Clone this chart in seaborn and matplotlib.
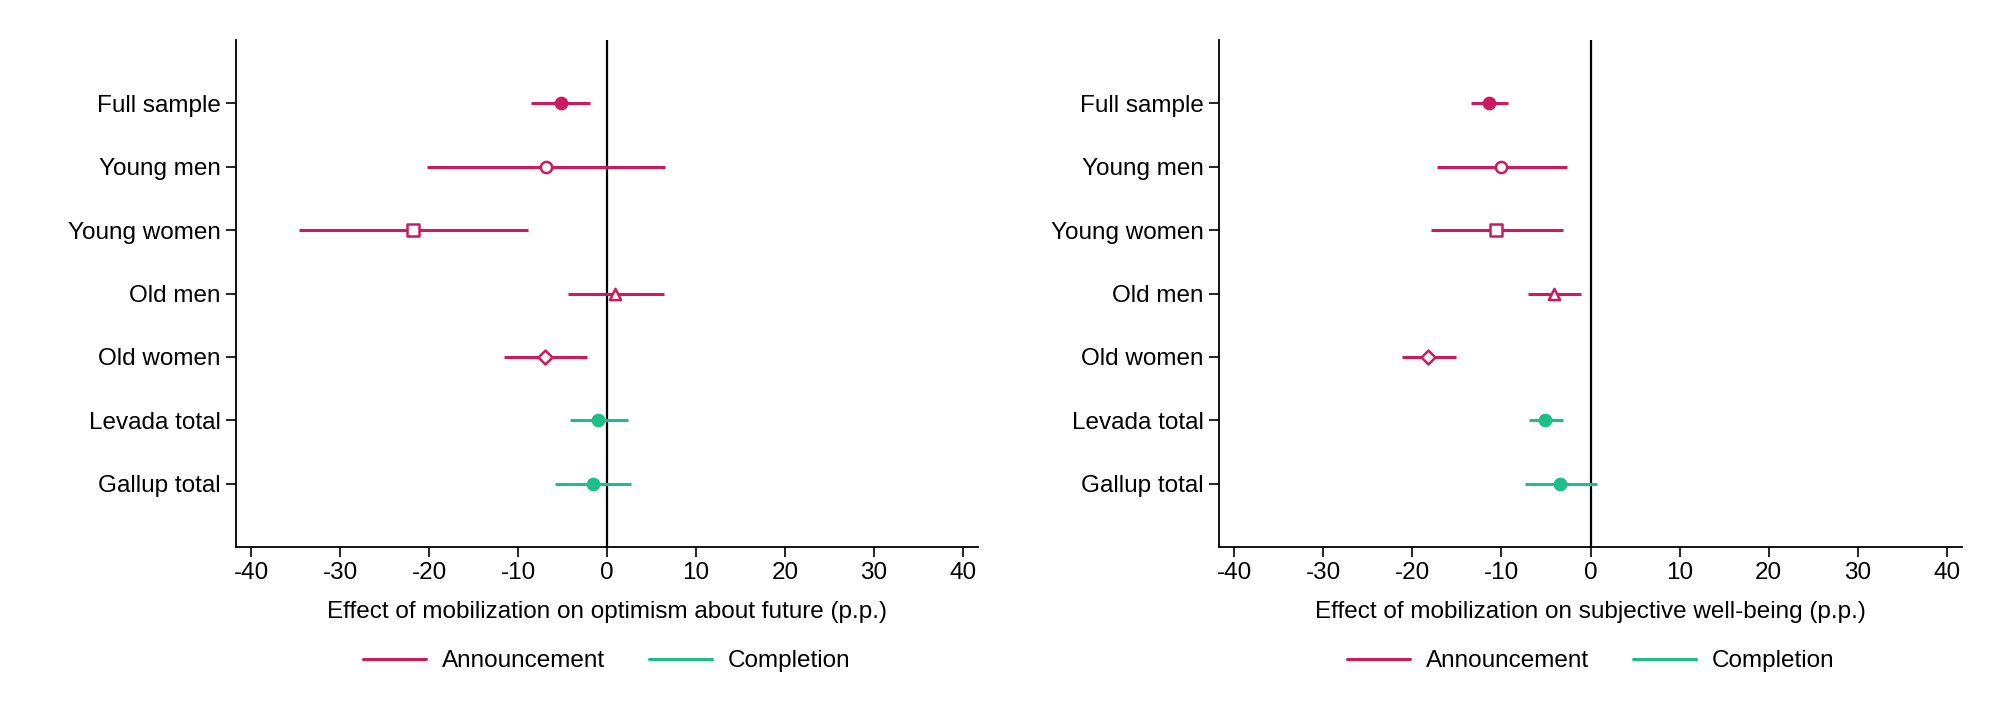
import matplotlib
matplotlib.use("Agg")
import matplotlib.pyplot as plt
import seaborn as sns
import pandas as pd
from matplotlib.lines import Line2D

# ---- data ----
categories = ["Full sample", "Young men", "Young women", "Old men",
              "Old women", "Levada total", "Gallup total"]
groups = ["Announcement"] * 5 + ["Completion"] * 2
markers = ["o", "o", "s", "^", "D", "o", "o"]
filled = [True, False, False, False, False, True, True]

opt_est = [-5.2, -6.9, -21.8, 0.9, -7.0, -1.0, -1.6]
opt_lo = [-8.5, -20.2, -34.6, -4.4, -11.6, -4.2, -5.8]
opt_hi = [-1.9, 6.5, -8.9, 6.4, -2.3, 2.4, 2.7]

swb_est = [-11.4, -10.0, -10.6, -4.1, -18.2, -5.1, -3.4]
swb_lo = [-13.4, -17.2, -17.9, -7.0, -21.2, -6.9, -7.3]
swb_hi = [-9.3, -2.6, -3.1, -1.1, -15.1, -3.1, 0.7]

xticks = [-40, -30, -20, -10, 0, 10, 20, 30, 40]
xlabels = ["Effect of mobilization on optimism about future (p.p.)",
           "Effect of mobilization on subjective well-being (p.p.)"]
legend_labels = ["Announcement", "Completion"]

palette = {"Announcement": "#CC1B5C", "Completion": "#1DBE88"}

sns.set_theme(style="white")
plt.rcParams["font.family"] = ["Liberation Sans", "DejaVu Sans"]
plt.rcParams["text.color"] = "black"
plt.rcParams["axes.labelcolor"] = "black"
plt.rcParams["xtick.color"] = "black"
plt.rcParams["ytick.color"] = "black"
FS = 17.5

W, H = 1999, 727
fig = plt.figure(figsize=(W / 100, H / 100), dpi=100)
ax_top, ax_bot = 40, 547
lefts = [(236, 978), (1219, 1962)]
axes = []
for (l, r) in lefts:
    axes.append(fig.add_axes([l / W, (H - ax_bot) / H, (r - l) / W, (ax_bot - ax_top) / H]))

panels = [(opt_est, opt_lo, opt_hi), (swb_est, swb_lo, swb_hi)]
for ax, (est, lo, hi), xl in zip(axes, panels, xlabels):
    df = pd.DataFrame({"cat": categories, "y": range(1, len(categories) + 1),
                       "est": est, "lo": lo, "hi": hi, "group": groups,
                       "marker": markers, "filled": filled})
    ax.axvline(0, color="black", lw=1.6, zorder=1)
    for _, row in df.iterrows():
        c = palette[row["group"]]
        ax.hlines(row["y"], row["lo"], row["hi"], color=c, lw=2.2, zorder=2)
        sub = df[df["cat"] == row["cat"]]
        sns.scatterplot(data=sub, x="est", y="y", ax=ax, marker=row["marker"],
                        s=65 if row["marker"] != "D" else 50,
                        color=c if row["filled"] else "white",
                        edgecolor=c, linewidth=1.8, zorder=3, legend=False)
    ax.set_xlim(-41.7, 41.7)
    ax.set_ylim(8, 0)
    ax.set_yticks(df["y"])
    ax.set_yticklabels(categories, fontsize=FS, color="black")
    ax.set_xticks(xticks)
    ax.set_xticklabels([str(t) for t in xticks], fontsize=FS, color="black")
    ax.set_xlabel(xl, fontsize=FS, labelpad=12, color="black")
    ax.set_ylabel("")
    for s in ["top", "right"]:
        ax.spines[s].set_visible(False)
    for s in ["left", "bottom"]:
        ax.spines[s].set_color("black")
        ax.spines[s].set_linewidth(1.3)
    ax.tick_params(axis="both", which="major", length=7, width=1.2,
                   color="black", labelcolor="black", direction="out", pad=4,
                   left=True, bottom=True)
    handles = [Line2D([0], [0], color=palette[g], lw=2.2) for g in legend_labels]
    ax.legend(handles, legend_labels, loc="center", bbox_to_anchor=(0.5, -0.225),
              ncol=2, frameon=False, fontsize=FS, handlelength=2.6,
              handletextpad=0.65, columnspacing=1.8)

fig.savefig("out.png", dpi=100)
